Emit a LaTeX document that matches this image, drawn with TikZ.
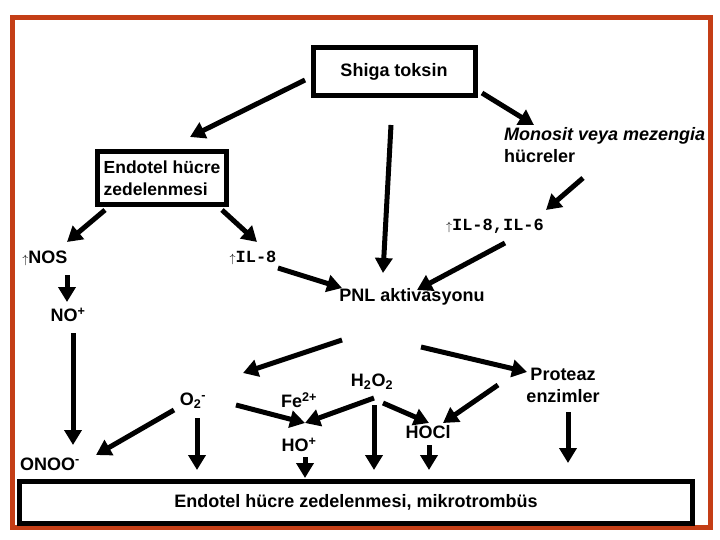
\documentclass[tikz,border=0pt]{standalone}
\usepackage{fontspec}
\setmainfont{Liberation Sans}
\setmonofont{Liberation Mono}
\usetikzlibrary{arrows.meta}

\definecolor{framered}{RGB}{196,62,22}
\newcommand{\incr}{{\normalfont\fontsize{13}{13}\selectfont$\uparrow$}}

\begin{document}
\begin{tikzpicture}[
    x=1pt,
    y=-1pt,
    every node/.style={font=\fontsize{18}{22}\selectfont\bfseries, inner sep=1pt},
    frame/.style={draw=framered, line width=5pt},
    box/.style={draw=black, line width=5pt, inner sep=0pt},
    arr/.style={-{Triangle[length=15pt,width=17pt]}, line width=5pt}
  ]
    \useasboundingbox (0,0) rectangle (720,540);
    \draw[frame] (12,18) rectangle (710,527);

    % boxes
    \node[box, minimum width=162, minimum height=48] (shiga) at (394,72) {Shiga toksin};
    \node[box, minimum width=129, minimum height=53, align=left, font=\fontsize{17.5}{22}\selectfont\bfseries] (endotel) at (162,178) {Endotel hücre\\zedelenmesi};
    \node[box, minimum width=673, minimum height=42] (result) at (356,502) {Endotel hücre zedelenmesi, mikrotrombüs};

    % labels
    \node[anchor=west, align=left] (monosit) at (503,145) {\itshape Monosit veya mezengia\\hücreler};
    \node (il86) at (495,226) {\incr\ttfamily\fontsize{17}{22}\selectfont IL-8,IL-6};
    \node (nos) at (45,258) {\incr NOS};
    \node (il8) at (253,258) {\incr\ttfamily\fontsize{17}{22}\selectfont IL-8};
    \node (pnl) at (412,297) {PNL aktivasyonu};
    \node (no) at (68,315) {NO\textsuperscript{+}};
    \node (onoo) at (50,464) {ONOO\textsuperscript{-}};
    \node (otwo) at (193,401) {O\textsubscript{2}\textsuperscript{-}};
    \node (fe) at (299,400) {Fe\textsuperscript{2+}};
    \node (htwo) at (372,382) {H\textsubscript{2}O\textsubscript{2}};
    \node[align=center] (proteaz) at (563,385) {Proteaz\\enzimler};
    \node (ho) at (299,445) {HO\textsuperscript{+}};
    \node (hocl) at (428,432) {HOCl};

    % upper part
    \draw[arr] ([shift={(-89,8)}]shiga.center) -- ([shift={(28,-41)}]endotel.center);
    \draw[arr] ([shift={(88,21)}]shiga.center) -- ([shift={(31,-20)}]monosit.west);
    \draw[arr] ([shift={(-3,53)}]shiga.center) -- ([shift={(-29,-24)}]pnl.center);
    \draw[arr] ([shift={(80,33)}]monosit.west) -- ([shift={(51,-16)}]il86.center);
    \draw[arr] ([shift={(-57,32)}]endotel.center) -- ([shift={(22,-16)}]nos.center);
    \draw[arr] ([shift={(60,32)}]endotel.center) -- ([shift={(4,-16)}]il8.center);
    \draw[arr] ([shift={(25,10)}]il8.center) -- ([shift={(-70,-9)}]pnl.center);
    \draw[arr] ([shift={(10,17)}]il86.center) -- ([shift={(5,-7)}]pnl.center);

    % NO branch
    \draw[arr] ([shift={(22,17)}]nos.center) -- ([shift={(-1,-13)}]no.center);
    \draw[arr] ([shift={(5,18)}]no.center) -- ([shift={(23,-19)}]onoo.center);

    % PNL products
    \draw[arr] ([shift={(-70,43)}]pnl.center) -- ([shift={(50,-28)}]otwo.center);
    \draw[arr] ([shift={(9,50)}]pnl.center) -- ([shift={(-36,-13)}]proteaz.center);
    \draw[arr] ([shift={(-19,9)}]otwo.center) -- ([shift={(46,-9)}]onoo.center);
    \draw[arr] ([shift={(43,4)}]otwo.center) -- ([shift={(6,-22)}]ho.center);
    \draw[arr] ([shift={(2,16)}]htwo.center) -- ([shift={(6,-22)}]ho.center);
    \draw[arr] ([shift={(11,21)}]htwo.center) -- ([shift={(1,-9)}]hocl.center);
    \draw[arr] ([shift={(-65,0)}]proteaz.center) -- ([shift={(15,-9)}]hocl.center);

    % into the result box
    \draw[arr] ([shift={(4,17)}]otwo.center) -- ([shift={(-159,-32)}]result.center);
    \draw[arr] ([shift={(6,12)}]ho.center) -- ([shift={(-51,-24)}]result.center);
    \draw[arr] ([shift={(2,23)}]htwo.center) -- ([shift={(18,-32)}]result.center);
    \draw[arr] ([shift={(1,13)}]hocl.center) -- ([shift={(73,-32)}]result.center);
    \draw[arr] ([shift={(5,27)}]proteaz.center) -- ([shift={(212,-39)}]result.center);
\end{tikzpicture}
\end{document}
